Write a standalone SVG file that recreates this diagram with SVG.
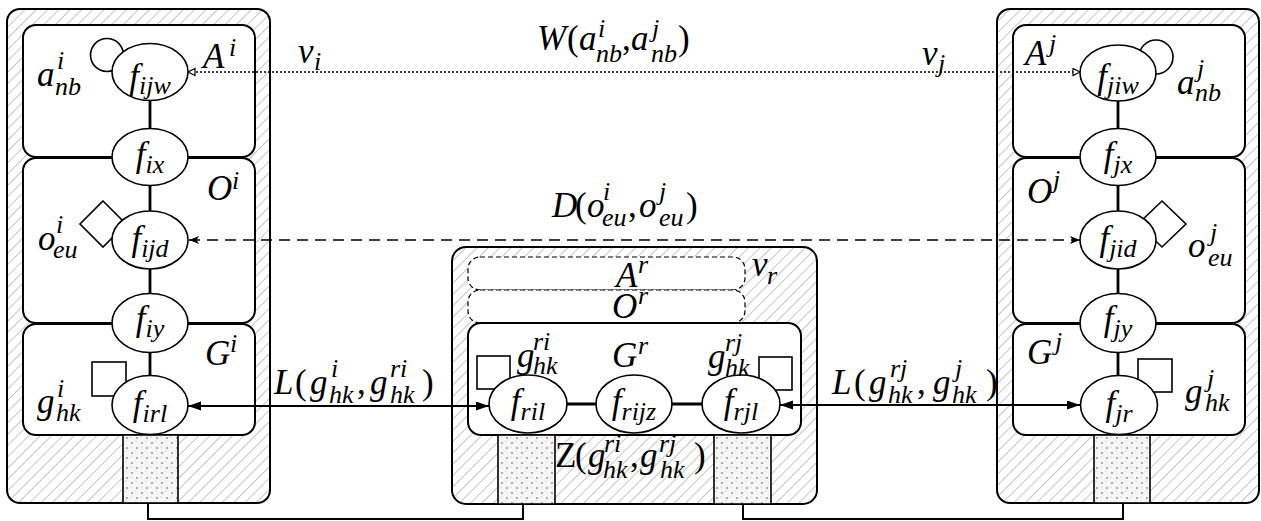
<svg xmlns="http://www.w3.org/2000/svg" width="1261" height="521" viewBox="0 0 1261 521">
<style>
.t{font-family:"Liberation Serif","Times New Roman",serif;font-style:italic;font-size:35px;fill:#000}
.s{font-size:26px}
.u{font-style:normal}
.ob{fill:url(#hatch);stroke:#000;stroke-width:2}
.ib{fill:#fff;stroke:#000;stroke-width:2}
.db{fill:#fff;stroke:#000;stroke-width:1.2;stroke-dasharray:5 3}
.st{fill:url(#dots);stroke:#000;stroke-width:1.6}
.el{fill:#fff;stroke:#000;stroke-width:1.6}
.sh{fill:#fff;stroke:#000;stroke-width:1.6}
.ln{stroke:#000;stroke-width:2.8;fill:none}
.w{stroke:#000;stroke-width:1.6;stroke-dasharray:2 2;fill:none}
.d{stroke:#000;stroke-width:1.6;stroke-dasharray:11 7;fill:none}
.l{stroke:#000;stroke-width:2;fill:none}
.b{stroke:#000;stroke-width:2;fill:none}
</style>
<defs>
<pattern id="hatch" patternUnits="userSpaceOnUse" width="8" height="8" patternTransform="rotate(45)">
<rect width="8" height="8" fill="#fff"/>
<line x1="0" y1="0" x2="0" y2="8" stroke="#a8a8a8" stroke-width="1.3"/>
</pattern>
<pattern id="dots" patternUnits="userSpaceOnUse" width="10" height="10">
<rect width="10" height="10" fill="#f6f6f6"/>
<circle cx="2" cy="3" r="0.9" fill="#888"/>
<circle cx="7" cy="8" r="0.9" fill="#888"/>
<circle cx="6" cy="1" r="0.6" fill="#bbb"/>
<circle cx="1" cy="7" r="0.6" fill="#bbb"/>
</pattern>
<marker id="af" markerUnits="userSpaceOnUse" markerWidth="14" markerHeight="10" refX="13" refY="4.5" orient="auto-start-reverse">
<path d="M0,0 L13,4.5 L0,9 z" fill="#000"/>
</marker>
<marker id="ao" markerUnits="userSpaceOnUse" markerWidth="10" markerHeight="10" refX="8" refY="4.5" orient="auto-start-reverse">
<path d="M1,1 L8,4.5 L1,8 z" fill="#fff" stroke="#000" stroke-width="1.2"/>
</marker>
<marker id="av" markerUnits="userSpaceOnUse" markerWidth="12" markerHeight="10" refX="10" refY="4.5" orient="auto-start-reverse">
<path d="M0,0.5 L10,4.5 L0,8.5 L2.5,4.5 z" fill="#000"/>
</marker>
</defs>

<g id="block-i">
<rect class="ob" x="7" y="9" width="263" height="494" rx="13"/>
<rect class="ib" x="23" y="25" width="232" height="132" rx="13"/>
<rect class="ib" x="23" y="158" width="232" height="165" rx="13"/>
<rect class="ib" x="23" y="324" width="232" height="111" rx="13"/>
<rect class="st" x="123" y="435" width="55" height="68"/>
</g>
<g id="block-r">
<rect class="ob" x="452" y="247" width="365" height="257" rx="14"/>
<rect class="db" x="468" y="257" width="277" height="33" rx="12"/>
<rect class="db" x="468" y="290" width="277" height="33" rx="12"/>
<rect class="ib" x="468" y="323" width="333" height="112" rx="13"/>
<rect class="st" x="498" y="435" width="57" height="69"/>
<rect class="st" x="714" y="435" width="57" height="69"/>
</g>
<g id="block-j">
<rect class="ob" x="997" y="9" width="262" height="494" rx="13"/>
<rect class="ib" x="1013" y="25" width="232" height="132" rx="13"/>
<rect class="ib" x="1013" y="158" width="232" height="165" rx="13"/>
<rect class="ib" x="1013" y="324" width="232" height="111" rx="13"/>
<rect class="st" x="1094" y="435" width="56" height="68"/>
</g>

<g id="connectors">
<line class="ln" x1="150" y1="72" x2="150" y2="405"/>
<line class="ln" x1="1118" y1="72" x2="1118" y2="405"/>
<line class="ln" x1="528" y1="404" x2="741" y2="404"/>
<line class="w" x1="188" y1="72" x2="1080" y2="72" marker-start="url(#ao)" marker-end="url(#ao)"/>
<line class="d" x1="189" y1="240" x2="1080" y2="240" marker-start="url(#av)" marker-end="url(#av)"/>
<line class="l" x1="188" y1="406" x2="489" y2="406" marker-start="url(#af)" marker-end="url(#af)"/>
<line class="l" x1="780" y1="405" x2="1080" y2="405" marker-start="url(#af)" marker-end="url(#af)"/>
<polyline class="b" points="148,503 148,519 523,519 523,504"/>
<polyline class="b" points="743,504 743,519 1123,519 1123,503"/>
</g>

<g id="f-ijw"><circle class="sh" cx="107" cy="55" r="16.5"/><ellipse class="el" cx="150" cy="72" rx="38" ry="28.5"/><text class="t" x="150" y="88" text-anchor="middle">f<tspan class="s" dy="6">ijw</tspan></text></g>
<g id="f-ix"><ellipse class="el" cx="150" cy="157" rx="38" ry="28.5"/><text class="t" x="150" y="166" text-anchor="middle">f<tspan class="s" dy="7">ix</tspan></text></g>
<g id="f-ijd"><polygon class="sh" points="103,201 126,224 103,247 80,224"/><ellipse class="el" cx="150" cy="240" rx="38" ry="29"/><text class="t" x="150" y="250" text-anchor="middle">f<tspan class="s" dy="7">ijd</tspan></text></g>
<g id="f-iy"><ellipse class="el" cx="150" cy="323" rx="38" ry="29.5"/><text class="t" x="150" y="330" text-anchor="middle">f<tspan class="s" dy="7">iy</tspan></text></g>
<g id="f-irl"><rect class="sh" x="92" y="362" width="34" height="34"/><ellipse class="el" cx="150" cy="405" rx="38" ry="29.5"/><text class="t" x="150" y="415" text-anchor="middle">f<tspan class="s" dy="7">irl</tspan></text></g>

<g id="f-ril"><rect class="sh" x="477" y="356" width="33" height="33"/><ellipse class="el" cx="528" cy="404" rx="39" ry="29"/><text class="t" x="528" y="413" text-anchor="middle">f<tspan class="s" dy="7">ril</tspan></text></g>
<g id="f-rijz"><ellipse class="el" cx="634" cy="404" rx="38" ry="29"/><text class="t" x="634" y="413" text-anchor="middle">f<tspan class="s" dy="7">rijz</tspan></text></g>
<g id="f-rjl"><rect class="sh" x="759" y="357" width="33" height="33"/><ellipse class="el" cx="741" cy="404" rx="39" ry="29"/><text class="t" x="741" y="413" text-anchor="middle">f<tspan class="s" dy="7">rjl</tspan></text></g>

<g id="f-jiw"><circle class="sh" cx="1156" cy="57" r="17"/><ellipse class="el" cx="1118" cy="73" rx="38" ry="28"/><text class="t" x="1118" y="88" text-anchor="middle">f<tspan class="s" dy="6">jiw</tspan></text></g>
<g id="f-jx"><ellipse class="el" cx="1118" cy="157" rx="38" ry="28.5"/><text class="t" x="1118" y="166" text-anchor="middle">f<tspan class="s" dy="7">jx</tspan></text></g>
<g id="f-jid"><polygon class="sh" points="1162,201 1186,224 1162,247 1138,224"/><ellipse class="el" cx="1118" cy="240" rx="38" ry="29"/><text class="t" x="1118" y="250" text-anchor="middle">f<tspan class="s" dy="7">jid</tspan></text></g>
<g id="f-jy"><ellipse class="el" cx="1118" cy="323" rx="38" ry="29.5"/><text class="t" x="1118" y="330" text-anchor="middle">f<tspan class="s" dy="7">jy</tspan></text></g>
<g id="f-jr"><rect class="sh" x="1138" y="359" width="34" height="33"/><ellipse class="el" cx="1119" cy="405" rx="38.5" ry="29.5"/><text class="t" x="1119" y="415" text-anchor="middle">f<tspan class="s" dy="7">jr</tspan></text></g>

<g id="labels">
<text class="t" x="37" y="86">a</text><text class="t s" x="57" y="69">i</text><text class="t s" x="55" y="95">nb</text>
<text class="t" x="203" y="68">A</text><text class="t s" x="229" y="56">i</text>
<text class="t" x="207" y="200">O</text><text class="t s" x="232" y="189">i</text>
<text class="t" x="38" y="250">o</text><text class="t s" x="56" y="233">i</text><text class="t s" x="53" y="258">eu</text>
<text class="t" x="205" y="365">G</text><text class="t s" x="230" y="352">i</text>
<text class="t" x="37" y="413">g</text><text class="t s" x="57" y="397">i</text><text class="t s" x="56" y="421">hk</text>

<text class="t" x="616" y="287">A</text><text class="t s" x="638" y="273">r</text>
<text class="t" x="612" y="318">O</text><text class="t s" x="638" y="304">r</text>
<text class="t" x="612" y="367">G</text><text class="t s" x="638" y="354">r</text>
<text class="t" x="517" y="367">g</text><text class="t s" x="533" y="350">ri</text><text class="t s" x="533" y="374">hk</text>
<text class="t" x="708" y="368">g</text><text class="t s" x="725" y="351">rj</text><text class="t s" x="725" y="376">hk</text>
<text class="t" x="752" y="276">v</text><text class="t s" x="767" y="284">r</text>
<text class="t" y="467"><tspan class="u" x="555">Z</tspan><tspan class="u" x="575">(</tspan><tspan x="588">g</tspan><tspan class="s" x="604" y="452">ri</tspan><tspan class="s" x="603" y="478">hk</tspan><tspan class="u" x="630" y="467">,</tspan><tspan x="640">g</tspan><tspan class="s" x="659" y="452">rj</tspan><tspan class="s" x="660" y="478">hk</tspan><tspan class="u" x="694" y="467">)</tspan></text>

<text class="t" x="1025" y="65">A</text><text class="t s" x="1049" y="52">j</text>
<text class="t" x="1177" y="94">a</text><text class="t s" x="1197" y="77">j</text><text class="t s" x="1195" y="101">nb</text>
<text class="t" x="1027" y="203">O</text><text class="t s" x="1053" y="188">j</text>
<text class="t" x="1188" y="257">o</text><text class="t s" x="1210" y="241">j</text><text class="t s" x="1208" y="266">eu</text>
<text class="t" x="1027" y="364">G</text><text class="t s" x="1055" y="350">j</text>
<text class="t" x="1185" y="403">g</text><text class="t s" x="1207" y="387">j</text><text class="t s" x="1205" y="411">hk</text>

<text class="t" x="298" y="63">v</text><text class="t s" x="314" y="70">i</text>
<text class="t" x="922" y="65">v</text><text class="t s" x="938" y="72">j</text>
<text class="t" y="50"><tspan x="537">W</tspan><tspan class="u" x="567">(</tspan><tspan x="579">a</tspan><tspan class="s" x="598" y="37">i</tspan><tspan class="s" x="596" y="62">nb</tspan><tspan class="u" x="622" y="50">,</tspan><tspan x="631">a</tspan><tspan class="s" x="652" y="37">j</tspan><tspan class="s" x="651" y="62">nb</tspan><tspan class="u" x="678" y="50">)</tspan></text>
<text class="t" y="217"><tspan x="552">D</tspan><tspan class="u" x="575">(</tspan><tspan x="587">o</tspan><tspan class="s" x="603" y="200">i</tspan><tspan class="s" x="602" y="226">eu</tspan><tspan class="u" x="628" y="217">,</tspan><tspan x="639">o</tspan><tspan class="s" x="659" y="200">j</tspan><tspan class="s" x="659" y="226">eu</tspan><tspan class="u" x="686" y="217">)</tspan></text>
<text class="t" y="394"><tspan x="274">L</tspan><tspan class="u" x="295">(</tspan><tspan x="310">g</tspan><tspan class="s" x="331" y="377">i</tspan><tspan class="s" x="329" y="403">hk</tspan><tspan class="u" x="357" y="394">,</tspan><tspan x="370">g</tspan><tspan class="s" x="390" y="377">ri</tspan><tspan class="s" x="390" y="403">hk</tspan><tspan class="u" x="422" y="394">)</tspan></text>
<text class="t" y="394"><tspan x="832">L</tspan><tspan class="u" x="854">(</tspan><tspan x="869">g</tspan><tspan class="s" x="890" y="377">rj</tspan><tspan class="s" x="888" y="403">hk</tspan><tspan class="u" x="917" y="394">,</tspan><tspan x="933">g</tspan><tspan class="s" x="955" y="377">j</tspan><tspan class="s" x="952" y="403">hk</tspan><tspan class="u" x="986" y="394">)</tspan></text>
</g>
</svg>
